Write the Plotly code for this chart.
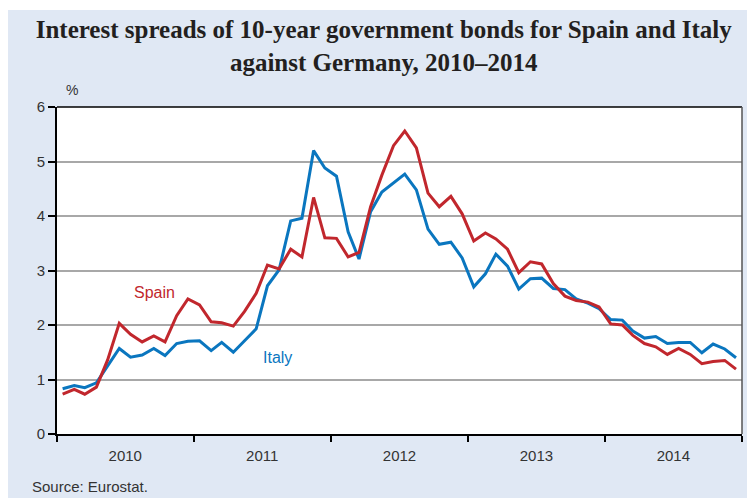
import pandas as pd
import plotly.graph_objects as go

# Monthly observations, Jan 2010 – Dec 2014 (mid-month)
months = pd.date_range("2010-01-01", periods=60, freq="MS") + pd.Timedelta(days=15)

spain = [0.73, 0.82, 0.73, 0.86, 1.36, 2.03, 1.83, 1.69, 1.80, 1.69, 2.17, 2.48,
         2.37, 2.06, 2.04, 1.98, 2.25, 2.58, 3.10, 3.03, 3.39, 3.25, 4.34, 3.60,
         3.59, 3.25, 3.33, 4.17, 4.75, 5.29, 5.56, 5.25, 4.42, 4.17, 4.36, 4.04,
         3.54, 3.69, 3.58, 3.39, 2.96, 3.16, 3.12, 2.76, 2.53, 2.45, 2.42, 2.33,
         2.02, 2.00, 1.81, 1.66, 1.60, 1.46, 1.57, 1.46, 1.29, 1.33, 1.35, 1.19]

italy = [0.83, 0.89, 0.85, 0.94, 1.25, 1.57, 1.41, 1.45, 1.57, 1.44, 1.66, 1.70,
         1.71, 1.53, 1.68, 1.50, 1.71, 1.93, 2.72, 3.01, 3.91, 3.96, 5.20, 4.88,
         4.73, 3.71, 3.21, 4.08, 4.44, 4.60, 4.77, 4.48, 3.76, 3.48, 3.52, 3.23,
         2.70, 2.94, 3.30, 3.08, 2.66, 2.85, 2.86, 2.67, 2.65, 2.48, 2.40, 2.30,
         2.10, 2.09, 1.89, 1.76, 1.79, 1.66, 1.68, 1.68, 1.49, 1.65, 1.56, 1.40]

year_labels = ["2010", "2011", "2012", "2013", "2014"]
year_centers = ["2010-07-02", "2011-07-02", "2012-07-02", "2013-07-02", "2014-07-02"]
year_bounds = ["2010-01-01", "2011-01-01", "2012-01-01", "2013-01-01", "2014-01-01", "2015-01-01"]

RED = "#c1272d"
BLUE = "#0a76bf"
BG = "#e0e8f4"

fig = go.Figure()
fig.add_trace(go.Scatter(x=months, y=italy, mode="lines", name="Italy",
                         line=dict(color=BLUE, width=3)))
fig.add_trace(go.Scatter(x=months, y=spain, mode="lines", name="Spain",
                         line=dict(color=RED, width=3)))

# plot area in page pixels: x 57..742, y 107..434 (page has an 8px body margin)
fig.update_layout(
    width=747, height=490,
    margin=dict(l=49, r=13, t=99, b=64),
    paper_bgcolor=BG, plot_bgcolor="white",
    showlegend=False,
    font=dict(family="Liberation Sans, Arial, sans-serif", color="#231f20"),
    title=dict(
        text="<b>Interest spreads of 10-year government bonds for Spain and Italy</b><br>"
             "<b>against Germany, 2010–2014</b>",
        x=0.503, xanchor="center", y=0.938, yanchor="top",
        font=dict(family="Liberation Serif, Times New Roman, serif", size=25, color="#231f20"),
    ),
    xaxis=dict(
        range=["2010-01-01", "2015-01-01"],
        tickmode="array", tickvals=year_centers, ticktext=year_labels,
        ticks="outside", ticklen=7, tickcolor="rgba(0,0,0,0)",
        tickfont=dict(size=15, color="#333333"),
        showgrid=False, zeroline=False,
        showline=True, linecolor="black", linewidth=2,
        minor=dict(tickmode="array", tickvals=year_bounds, ticks="outside",
                   ticklen=6, tickwidth=1.5, tickcolor="black", showgrid=False),
    ),
    yaxis=dict(
        range=[0, 6], tickmode="linear", tick0=0, dtick=1,
        ticks="outside", ticklen=7, tickwidth=1.5, tickcolor="black",
        tickfont=dict(size=15, color="#333333"),
        showgrid=True, gridcolor="#a8a8a8", gridwidth=1.5,
        zeroline=False, showline=True, linecolor="black", linewidth=2,
    ),
    shapes=[
        # thin white strip above the shaded panel
        dict(type="rect", xref="paper", yref="paper", x0=-0.2, x1=1.1,
             y0=(434 - 10) / 327, y1=1.5, fillcolor="white", line=dict(width=0), layer="below"),
        # frame top and right
        dict(type="line", xref="paper", yref="paper", x0=0, x1=1, y0=1, y1=1,
             line=dict(color="black", width=1.5)),
        dict(type="line", xref="paper", yref="paper", x0=1, x1=1, y0=0, y1=1,
             line=dict(color="#555555", width=1.5)),
    ],
    annotations=[
        dict(text="%", xref="paper", yref="paper", x=(72 - 57) / 685, y=(434 - 90) / 327,
             showarrow=False, font=dict(size=14, color="#333333"), xanchor="center", yanchor="middle"),
        dict(text="Spain", x="2010-09-18", y=2.6, showarrow=False,
             font=dict(size=16, color=RED), xanchor="center", yanchor="middle"),
        dict(text="Italy", x="2011-08-12", y=1.41, showarrow=False,
             font=dict(size=16, color=BLUE), xanchor="center", yanchor="middle"),
        dict(text="Source: Eurostat.", xref="paper", yref="paper",
             x=(30 - 57) / 685, y=(434 - 497) / 327, showarrow=False,
             font=dict(size=15, color="#333333"), xanchor="left", yanchor="bottom"),
    ],
)

fig.write_html("out.html")
